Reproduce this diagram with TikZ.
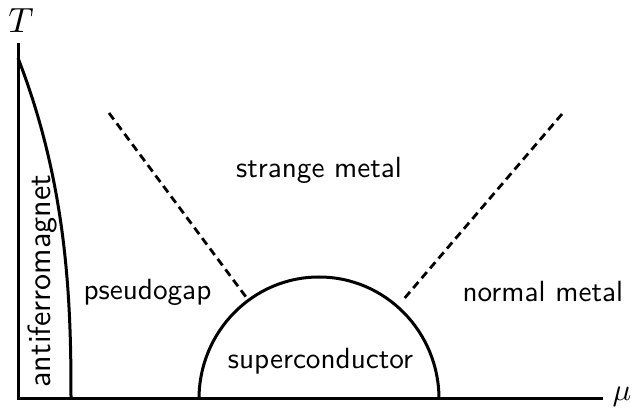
\documentclass[tikz,border=0pt]{standalone}
\begin{document}
\begin{tikzpicture}[x=1pt,y=1pt,
  lbl/.style={font=\sffamily\fontsize{10}{12}\selectfont, scale=2.92, inner sep=0pt, anchor=base},
  axisline/.style={line width=3pt, line cap=rect},
  bound/.style={line width=3pt},
  xover/.style={line width=2.8pt, dash pattern=on 8pt off 5pt}]
\useasboundingbox (0,0) rectangle (637,412);
\coordinate (O) at (18,13);
\coordinate (Ttop) at (18,367);
\coordinate (Mend) at (601,13);
\node[inner sep=0pt, scale=3.5] (T) at (21,391) {$T$};
\node[inner sep=0pt, scale=3.1] (mu) at (622,15) {$\mu$};
\draw[axisline] (Ttop) -- (O) -- (Mend);
% antiferromagnet boundary
\coordinate (afTop) at (18,354);
\coordinate (afBot) at (71,13);
\draw[bound] plot[domain=0:1, samples=60] ({18+53*(1-(1-\x)*(1-\x)*sqrt(1-\x))}, {354-341*\x});
% superconducting dome
\coordinate (scL) at (199,13);
\coordinate (scR) at (439,13);
\draw[bound] (scL) arc[start angle=180, end angle=0, x radius=120pt, y radius=122pt];
% crossover lines
\coordinate (pgA) at (109,299);
\coordinate (pgB) at (246,115);
\coordinate (nmA) at (562,298);
\coordinate (nmB) at (403,112);
\draw[xover] (pgA) -- (pgB);
\draw[xover] (nmA) -- (nmB);
% labels
\node[lbl] (sm) at (319,234) {strange metal};
\node[lbl, anchor=base west] (pg) at (83,112) {pseudogap};
\node[lbl, anchor=base west] (nm) at (462,110) {normal metal};
\node[lbl] (sc) at (320.5,43) {superconductor};
\node[lbl, rotate=90, scale=1.1] (af) at (50,131) {antiferromagnet};
\end{tikzpicture}
\end{document}
